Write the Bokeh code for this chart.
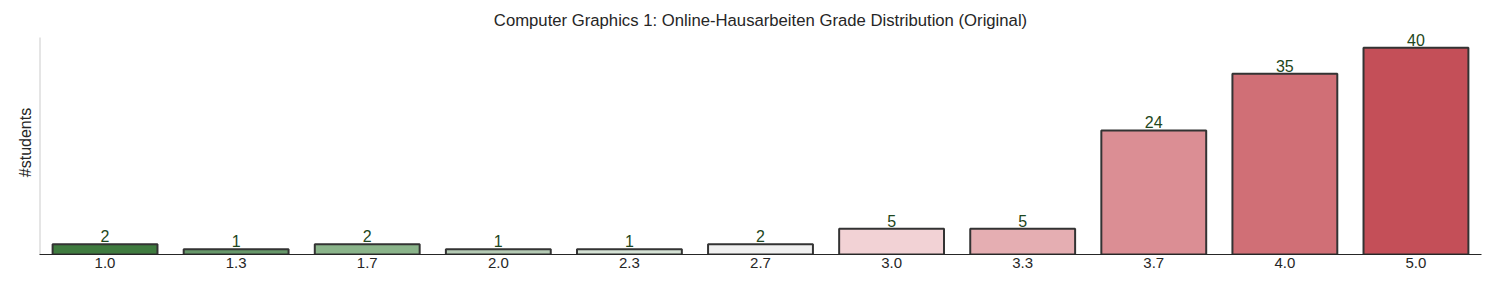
from bokeh.plotting import figure
from bokeh.models import Range1d, FixedTicker, ColumnDataSource
from bokeh.core.properties import value
from bokeh.embed import file_html
from bokeh.resources import INLINE

grades = ["1.0", "1.3", "1.7", "2.0", "2.3", "2.7", "3.0", "3.3", "3.7", "4.0", "5.0"]
counts = [2, 1, 2, 1, 1, 2, 5, 5, 24, 35, 40]
colors = ["#3f7b3f", "#67986a", "#8ab48a", "#b4cab4", "#d5e2d5", "#f0f0f0",
          "#f2d2d5", "#e5aeb2", "#db8e94", "#d06f76", "#c44f58"]
title = "Computer Graphics 1: Online-Hausarbeiten Grade Distribution (Original)"

xs = list(range(len(grades)))
src = ColumnDataSource(dict(x=xs, top=counts, color=colors,
                            label=[str(c) for c in counts]))

FONT = "Liberation Sans"
X0, X1 = -0.5, len(grades) - 0.5
Y_AXIS_TOP = 42          # top of the visible left spine (data units)
Y_END = 43.35            # frame extends a little above spine so labels aren't clipped

p = figure(width=1500, height=300, x_range=Range1d(X0, X1), y_range=Range1d(0, Y_END),
           output_backend="svg", toolbar_location=None,
           min_border_left=39, min_border_right=19, min_border_top=30,
           min_border_bottom=46)
p.title.text = title
p.title.align = "center"
p.title.text_font = FONT
p.title.text_font_size = "16.7px"
p.title.text_font_style = "normal"
p.title.text_color = "#262626"
p.title.standoff = 2

# left spine (light gray), only up to the axes top
p.segment(x0=[X0], y0=[0], x1=[X0], y1=[Y_AXIS_TOP], line_color="#cccccc", line_width=2)

p.vbar(x="x", top="top", width=0.8, source=src, fill_color="color",
       line_color="#333333", line_width=2)
p.text(x="x", y="top", text="label", source=src, text_align="center",
       text_baseline="bottom", text_font=value(FONT), text_font_size="16px",
       text_color="#1e4620", y_offset=-2)

p.outline_line_color = None
p.grid.visible = False
p.background_fill_color = "white"
p.border_fill_color = "white"

p.xaxis.ticker = FixedTicker(ticks=xs)
p.xaxis.major_label_overrides = {x: g for x, g in zip(xs, grades)}
p.xaxis.axis_line_color = "#262626"
p.xaxis.axis_line_width = 1
p.xaxis.major_tick_line_color = None
p.xaxis.minor_tick_line_color = None
p.xaxis.major_tick_out = 0
p.xaxis.minor_tick_out = 0
p.xaxis.major_label_text_font = FONT
p.xaxis.major_label_text_font_size = "15px"
p.xaxis.major_label_text_color = "#262626"
p.xaxis.major_label_standoff = 3

p.yaxis.ticker = FixedTicker(ticks=[])
p.yaxis.axis_line_color = None
p.yaxis.major_tick_line_color = None
p.yaxis.minor_tick_line_color = None
p.yaxis.major_tick_out = 0
p.yaxis.minor_tick_out = 0
p.yaxis.axis_label = "#students"
p.yaxis.axis_label_text_font = FONT
p.yaxis.axis_label_text_font_size = "16px"
p.yaxis.axis_label_text_font_style = "normal"
p.yaxis.axis_label_text_color = "#262626"
p.yaxis.axis_label_standoff = 6

open("out.html", "w").write(file_html(p, INLINE))
